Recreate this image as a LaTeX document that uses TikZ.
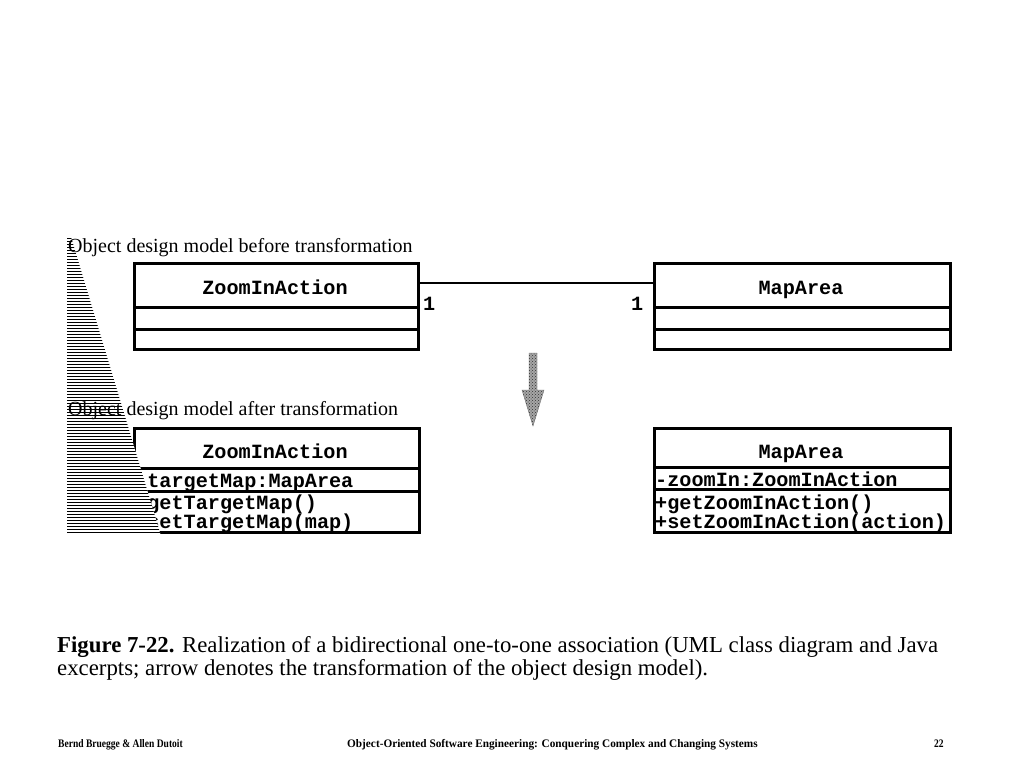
\documentclass[tikz,border=0pt]{standalone}
\usepackage{fontspec}
\usetikzlibrary{patterns}
\setmainfont{Liberation Serif}
\newfontfamily\monof{Liberation Mono}
\newfontfamily\footf[FakeStretch=0.83]{Liberation Serif}
\newfontfamily\footg[FakeStretch=0.98]{Liberation Serif}
\begin{document}
\begin{tikzpicture}[x=1pt,y=-1pt,
  box/.style={draw, line width=2.6pt, inner sep=0pt, anchor=north west},
  cname/.style={font=\monof\bfseries\fontsize{20.2}{21}\selectfont, inner sep=0pt, anchor=base},
  cmem/.style={font=\monof\bfseries\fontsize{20.2}{21}\selectfont, inner sep=0pt, anchor=base west},
  head/.style={font=\fontsize{20}{22}\selectfont, inner sep=0pt, anchor=base west},
  mult/.style={font=\monof\bfseries\fontsize{20.2}{21}\selectfont, inner sep=0pt, anchor=base west},
  capt/.style={font=\fontsize{22.8}{26}\selectfont, inner sep=0pt, anchor=base west},
  foot/.style={inner sep=0pt, anchor=base west},
  footn/.style={foot, font=\footf\bfseries\fontsize{11.5}{12}\selectfont},
  footw/.style={foot, font=\footg\bfseries\fontsize{11.5}{12}\selectfont}]
\useasboundingbox (0,0) rectangle (1024,768);

% ---- before transformation
\node[box, minimum width=284pt, minimum height=44pt] (za1) at (133,262) {};
\node[box, minimum width=284pt, minimum height=22pt] (za1a) at (133,306) {};
\node[box, minimum width=284pt, minimum height=20pt] (za1o) at (133,328) {};
\node[cname] (za1n) at (275,294) {ZoomInAction};

\node[box, minimum width=296pt, minimum height=44pt] (ma1) at (653,262) {};
\node[box, minimum width=296pt, minimum height=22pt] (ma1a) at (653,306) {};
\node[box, minimum width=296pt, minimum height=20pt] (ma1o) at (653,328) {};
\node[cname] (ma1n) at (801,294) {MapArea};

\draw[line width=1.8pt] (za1.east |- 0,283) -- (ma1.west |- 0,283);
\node[mult] (m1) at (423,310) {1};
\node[mult] (m2) at (631,310) {1};

% ---- arrow
\filldraw[fill=black!35, draw=black!55, line width=0.4pt]
  (529,353) -- (537,353) -- (537,390) -- (544,390) -- (533,426) -- (522,390) -- (529,390) -- cycle;
\fill[pattern=crosshatch dots, pattern color=black!80]
  (529,353) -- (537,353) -- (537,390) -- (544,390) -- (533,426) -- (522,390) -- (529,390) -- cycle;

% ---- after transformation
\node[box, minimum width=285pt, minimum height=40pt] (za2) at (133,427) {};
\node[box, minimum width=285pt, minimum height=23pt] (za2a) at (133,467) {};
\node[box, minimum width=285pt, minimum height=41pt] (za2o) at (133,490) {};
\node[cname] (za2n) at (275,458) {ZoomInAction};
\node[cmem] (za2m1) at (135,487) {-targetMap:MapArea};
\node[cmem] (za2m2) at (135,509) {+getTargetMap()};
\node[cmem] (za2m3) at (135,528) {+setTargetMap(map)};

\node[box, minimum width=296pt, minimum height=39pt] (ma2) at (653,427) {};
\node[box, minimum width=296pt, minimum height=22pt] (ma2a) at (653,466) {};
\node[box, minimum width=296pt, minimum height=43pt] (ma2o) at (653,488) {};
\node[cname] (ma2n) at (801,458) {MapArea};
\node[cmem] (ma2m1) at (655,486) {-zoomIn:ZoomInAction};
\node[cmem] (ma2m2) at (655,509) {+getZoomInAction()};
\node[cmem] (ma2m3) at (655,528) {+setZoomInAction(action)};

% ---- hatched wedge
\begin{scope}
  \clip (67,237) -- (71,237) -- (161,536) -- (67,536) -- cycle;
  \fill[white] (60,230) rectangle (170,540);
  \foreach \yy in {238.5,241.5,...,535} \draw[line width=1.6pt] (60,\yy) -- (170,\yy);
\end{scope}

% ---- headings
\node[head] (h1) at (68,252) {Object design model before transformation};
\node[head] (h2) at (68,415) {Object design model after transformation};

% ---- caption
\node[capt] (cap1) at (57,652)
  {\textbf{Figure 7-22.} Realization of a bidirectional one-to-one association (UML class diagram and Java};
\node[capt] (cap2) at (57,675)
  {excerpts; arrow denotes the transformation of the object design model).};

% ---- footer
\node[footn] (f1) at (58,747) {Bernd Bruegge \& Allen Dutoit};
\node[footw] (f2) at (347,747) {Object-Oriented Software Engineering: Conquering Complex and Changing Systems};
\node[footn] (f3) at (934,747) {22};
\end{tikzpicture}
\end{document}
